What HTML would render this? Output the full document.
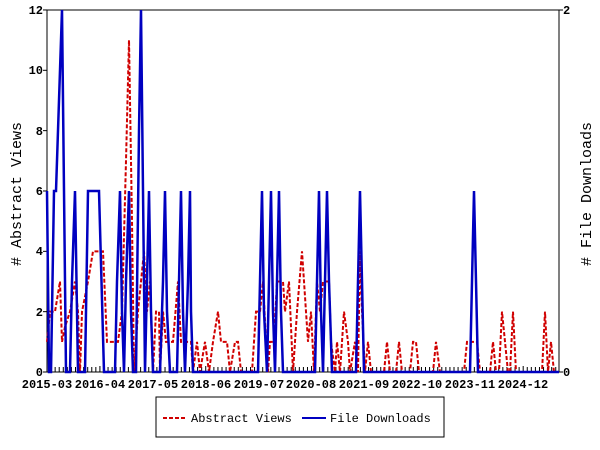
<!DOCTYPE html>
<html><head><meta charset="utf-8"><style>
html,body{margin:0;padding:0;background:#fff;width:600px;height:450px;overflow:hidden}
text{font-family:"Liberation Mono","DejaVu Sans Mono",monospace;font-weight:bold;font-size:12px;fill:#000}
</style></head><body>
<svg width="600" height="450" xmlns="http://www.w3.org/2000/svg">
<rect x="47" y="10" width="512" height="362" fill="none" stroke="#000" stroke-width="1"/>
<g id="ticks" stroke="#000" stroke-width="1"></g>
<g text-anchor="end">
<text x="43" y="376">0</text><text x="43" y="316">2</text><text x="43" y="255">4</text><text x="43" y="195">6</text><text x="43" y="135">8</text><text x="43" y="74">10</text><text x="43" y="14">12</text>
</g>
<text x="563" y="376">0</text><text x="563" y="14">2</text>
<g text-anchor="middle">
<text x="47" y="388">2015-03</text><text x="100" y="388">2016-04</text><text x="153" y="388">2017-05</text><text x="206" y="388">2018-06</text><text x="259" y="388">2019-07</text><text x="311" y="388">2020-08</text><text x="364" y="388">2021-09</text><text x="417" y="388">2022-10</text><text x="470" y="388">2023-11</text><text x="523" y="388">2024-12</text>
</g>
<text transform="translate(21,194) rotate(-90)" text-anchor="middle" style="font-weight:normal;font-size:15px"># Abstract Views</text>
<text transform="translate(591,194) rotate(-90)" text-anchor="middle" style="font-weight:normal;font-size:15px"># File Downloads</text>
<polyline id="red" fill="none" stroke="#d00000" stroke-width="2" stroke-dasharray="4,2"/>
<polyline id="blue" fill="none" stroke="#0000c0" stroke-width="2.5"/>
<rect x="156" y="397" width="288" height="40" fill="#fff" stroke="#000"/>
<line x1="163" y1="418" x2="187" y2="418" stroke="#d00000" stroke-width="2" stroke-dasharray="4,2"/>
<text x="191" y="422" style="font-weight:normal">Abstract Views</text>
<line x1="302" y1="418" x2="326" y2="418" stroke="#0000c0" stroke-width="2"/>
<text x="330" y="422" style="font-weight:normal">File Downloads</text>
</svg>
<script>
var Y=v=>372-v*30.17;
var red=[[47,1],[50,2],[55,2],[60,3],[62,1],[65,1.5],[70,2],[75,3],[78,2],[80,0],[82,2],[88,3],[93,4],[103,4],[107,1],[118,1],[122,2],[126,7],[129,11],[132,5],[134,0],[138,2],[141,3],[144,4],[147,2],[150,3],[153,0],[156,2],[159,2],[160,0],[163,2],[166,1],[173,1],[178,3],[181,1],[188,1],[191,1],[193,0],[197,1],[200,0],[205,1],[209,0],[213,1],[218,2],[221,1],[227,1],[230,0],[235,1],[238,1],[241,0],[252,0],[256,2],[260,2],[263,3],[266,1],[268,0],[270,1],[274,1],[277,3],[280,3],[283,3],[285,2],[289,3],[293,0],[297,2],[302,4],[306,2],[308,1],[311,2],[314,0],[317,3],[320,2],[323,3],[326,3],[329,3],[331,1],[335,0],[337,1],[340,0],[344,2],[348,1],[350,0],[355,1],[358,0],[360,4],[362,2],[365,0],[368,1],[371,0],[384,0],[387,1],[390,0],[396,0],[399,1],[402,0],[410,0],[413,1],[416,1],[419,0],[433,0],[436,1],[440,0],[464,0],[467,1],[477,1],[480,0],[490,0],[493,1],[496,0],[499,0],[502,2],[505,1],[508,0],[510,0],[513,2],[516,0],[542,0],[545,2],[548,0],[551,1],[554,0],[559,0]];
var blue=[[47,6],[49,0],[51,0],[54,6],[56,6],[59,9],[62,12],[64,6],[66,0],[70,0],[72,3],[75,6],[78,0],[85,0],[88,6],[99,6],[104,0],[115,0],[117,3],[120,6],[122,2],[124,0],[126,3],[129,6],[131,2],[133,0],[136,0],[139,8],[141,12],[143,6],[145,0],[147,3],[149,6],[151,2],[153,0],[160,0],[163,3],[165,6],[167,2],[170,0],[177,0],[179,3],[181,6],[183,2],[185,0],[188,3],[190,6],[191,2],[193,0],[258,0],[260,3],[262,6],[264,2],[267,0],[269,3],[271,6],[273,2],[275,0],[277,3],[279,6],[281,2],[283,0],[315,0],[317,3],[319,6],[321,2],[323,0],[325,3],[327,6],[329,3],[332,0],[356,0],[358,3],[360,6],[362,3],[364,0],[470,0],[472,3],[474,6],[476,3],[478,0],[559,0]];
document.getElementById('red').setAttribute('points',red.map(p=>p[0]+','+Y(p[1])).join(' '));
document.getElementById('blue').setAttribute('points',blue.map(p=>p[0]+','+Y(p[1])).join(' '));
var g=document.getElementById('ticks'),s='';
for(var i=0;i<=126;i++){var x=47+i*4.07;if(x>559)break;var big=(i%13==0);s+='<line x1="'+x+'" y1="372" x2="'+x+'" y2="'+(big?366:367)+'"/>';}
[0,2,4,6,8,10,12].forEach(v=>{s+='<line x1="43" y1="'+Y(v)+'" x2="47" y2="'+Y(v)+'"/>';});
s+='<line x1="559" y1="10" x2="563" y2="10"/><line x1="559" y1="372" x2="563" y2="372"/>';
g.innerHTML=s;
</script>
</body></html>
